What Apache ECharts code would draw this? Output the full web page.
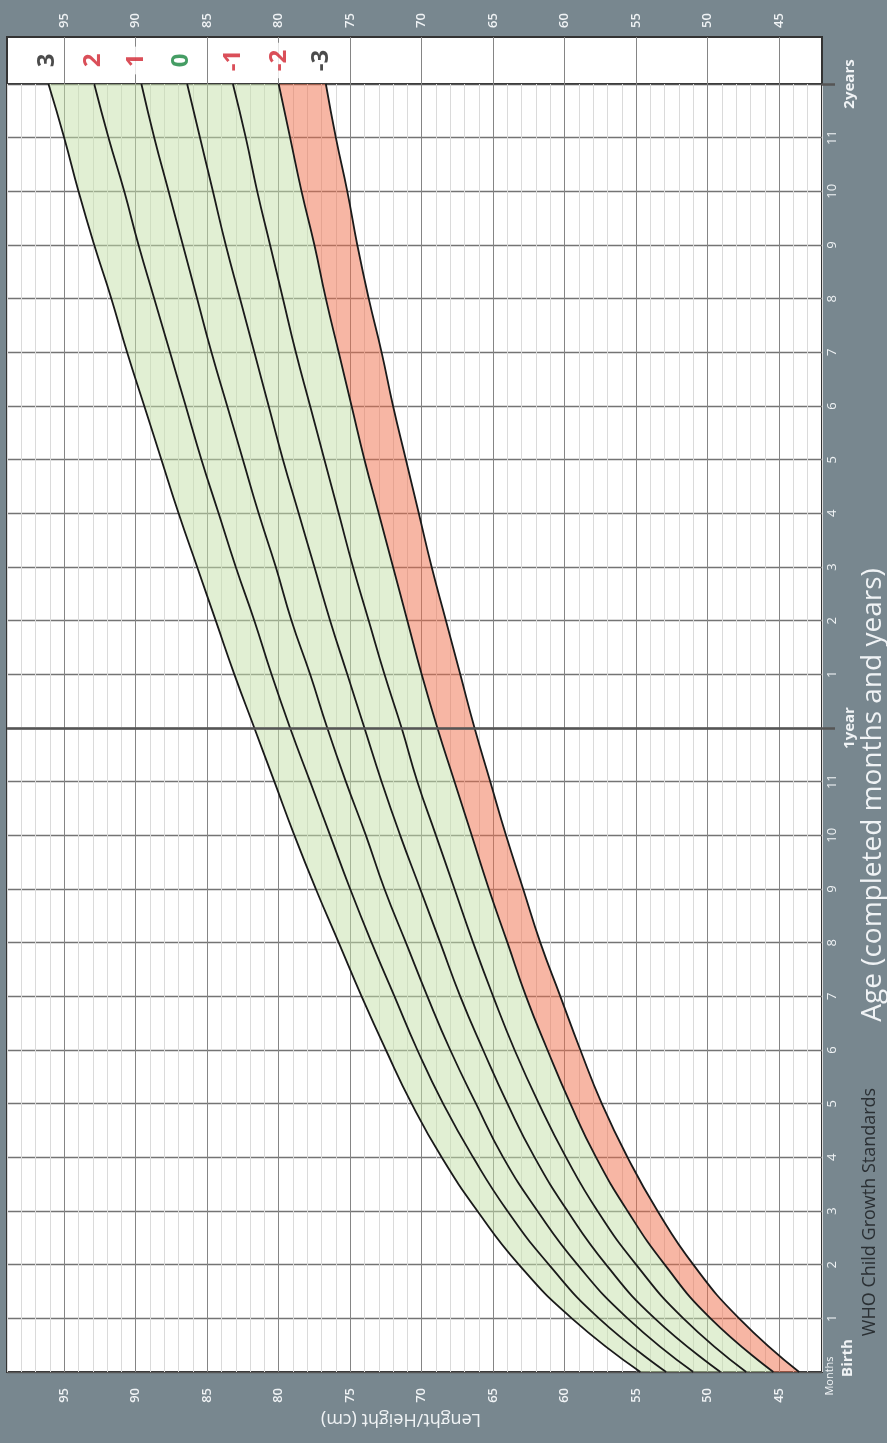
<!DOCTYPE html>
<html>
<head>
<meta charset="utf-8">
<script src="https://cdn.jsdelivr.net/npm/echarts@6/dist/echarts.min.js"></script>
<style>
html,body{margin:0;padding:0;background:#78878f;}
#c{width:887px;height:1443px;}
</style>
</head>
<body>
<div id="c"></div>
<script>
// Age categories (completed months)
const ages = [0,1,2,3,4,5,6,7,8,9,10,11,12,13,14,15,16,17,18,19,20,21,22,23,24];
const monthLabels = ['Birth','1','2','3','4','5','6','7','8','9','10','11','1year',
  '1','2','3','4','5','6','7','8','9','10','11','2years'];
// Length (cm) per z-score curve
const sdM3 = [43.6,47.8,51.0,53.5,55.6,57.4,58.9,60.3,61.7,62.9,64.1,65.2,66.3,67.3,68.3,69.3,70.2,71.1,72.0,72.8,73.7,74.5,75.2,76.0,76.7];
const sdM2 = [45.4,49.8,53.0,55.6,57.8,59.6,61.2,62.7,64.0,65.3,66.5,67.7,68.9,70.0,71.0,72.0,73.0,74.0,74.9,75.8,76.7,77.5,78.4,79.2,80.0];
const sdM1 = [47.3,51.7,55.0,57.7,59.9,61.8,63.5,65.0,66.4,67.7,69.0,70.3,71.4,72.6,73.7,74.8,75.8,76.8,77.8,78.8,79.7,80.6,81.5,82.3,83.2];
const sd0  = [49.1,53.7,57.1,59.8,62.1,64.0,65.7,67.3,68.7,70.1,71.5,72.8,74.0,75.2,76.4,77.5,78.6,79.7,80.7,81.7,82.7,83.7,84.6,85.5,86.4];
const sdP1 = [51.0,55.6,59.1,61.9,64.3,66.2,68.0,69.6,71.1,72.6,73.9,75.3,76.6,77.8,79.1,80.2,81.4,82.5,83.6,84.7,85.7,86.7,87.7,88.7,89.6];
const sdP2 = [52.9,57.6,61.1,64.0,66.4,68.5,70.3,71.9,73.5,75.0,76.4,77.8,79.2,80.5,81.7,83.0,84.2,85.4,86.5,87.6,88.7,89.8,90.8,91.9,92.9];
const sdP3 = [54.7,59.5,63.2,66.1,68.6,70.7,72.5,74.2,75.8,77.4,78.9,80.3,81.7,83.1,84.4,85.7,87.0,88.2,89.4,90.6,91.7,92.9,94.0,95.0,96.1];
// Curve labels in the header band
const zLabels = ['3','2','1','0','-1','-2','-3'];
const zLabelPos = [96.2,93.0,90.0,86.8,83.2,80.0,77.0];
const zColors = ['#1e1e1e','#d1232f','#d1232f','#17843d','#d1232f','#d1232f','#1e1e1e'];
const lengthMin = 42, lengthMax = 99;

const FONT = '"Open Sans", "Noto Sans", sans-serif';
const LIGHT = '#f0f3f5';
const MINOR = '#dadada', MAJOR = '#858585';

const bandPink = sdM2.map((v,i)=> +(v - sdM3[i]).toFixed(2));
const bandGreen = sdP3.map((v,i)=> +(v - sdM2[i]).toFixed(2));

const curves = [sdP3, sdP2, sdP1, sd0, sdM1, sdM2, sdM3];
const lineSeries = curves.map(d => ({
  type: 'line', xAxisIndex: 0, yAxisIndex: 0, data: d, smooth: true,
  symbol: 'none', silent: true, z: 4,
  lineStyle: { color: '#1a1a1a', width: 1.8 }
}));

const chart = echarts.init(document.getElementById('c'), null, {renderer: 'canvas'});
chart.setOption({
  backgroundColor: '#78878f',
  animation: false,
  textStyle: { fontFamily: FONT },
  grid: [
    { left: 7, right: 65, top: 84, bottom: 71, show: true, backgroundColor: '#fff', borderColor: '#333', borderWidth: 2 },
    { left: 7, right: 65, top: 37, height: 47, show: true, backgroundColor: '#fff', borderColor: '#333', borderWidth: 2 }
  ],
  xAxis: [
    { gridIndex: 0, type: 'value', min: lengthMin, max: lengthMax, interval: 1, inverse: true, position: 'bottom',
      axisLine: {show: false}, axisTick: {show: false},
      axisLabel: { rotate: 90, margin: 16, color: LIGHT, fontSize: 13, fontWeight: 600, fontFamily: FONT,
        formatter: v => (v % 5 === 0 ? String(v) : '') },
      splitLine: { show: true, lineStyle: { color: [MINOR, MINOR, MINOR, MAJOR, MINOR], width: 1 } } },
    { gridIndex: 1, type: 'value', min: lengthMin, max: lengthMax, interval: 1, inverse: true, position: 'top',
      axisLine: {show: false}, axisTick: {show: false},
      axisLabel: { rotate: 90, margin: 9, color: LIGHT, fontSize: 13, fontWeight: 600, fontFamily: FONT,
        formatter: v => (v % 5 === 0 ? String(v) : '') },
      splitLine: { show: true, lineStyle: { color: ['rgba(0,0,0,0)','rgba(0,0,0,0)','rgba(0,0,0,0)', MAJOR,'rgba(0,0,0,0)'], width: 1 } } }
  ],
  yAxis: [
    { gridIndex: 0, type: 'category', data: ages, boundaryGap: false, position: 'right',
      axisLine: {show: false}, axisTick: {show: false},
      axisLabel: { interval: 0, rotate: 90, margin: 4, color: LIGHT, fontSize: 13, fontFamily: FONT,
        formatter: (v, i) => (i % 12 === 0 ? '' : monthLabels[i]) },
      splitLine: { show: true, interval: 0, lineStyle: { color: ['#555','#747474','#747474','#747474','#747474','#747474','#747474','#747474','#747474','#747474','#747474','#747474'], width: 1.3 } } },
    { gridIndex: 0, type: 'category', data: ages, boundaryGap: false, position: 'right',
      axisLine: {show: false},
      axisTick: { show: true, interval: (i) => i === 12 || i === 24, length: 13, lineStyle: { color: '#555', width: 2.5 } },
      axisLabel: { interval: (i) => i === 12 || i === 24, rotate: 90, margin: 20, color: LIGHT, fontSize: 15, fontWeight: 'bold', fontFamily: FONT,
        formatter: (v, i) => monthLabels[i] },
      splitLine: {show: false} },
    { gridIndex: 1, type: 'value', min: 0, max: 1, show: false }
  ],
  series: [
    { type: 'line', xAxisIndex: 0, yAxisIndex: 0, data: sdM3, stack: 'band', smooth: true, symbol: 'none', silent: true,
      lineStyle: { width: 0, opacity: 0 }, z: 2 },
    { type: 'line', xAxisIndex: 0, yAxisIndex: 0, data: bandPink, stack: 'band', smooth: true, symbol: 'none', silent: true,
      lineStyle: { width: 0, opacity: 0 }, areaStyle: { color: 'rgb(240,110,74)', opacity: 0.5 }, z: 2 },
    { type: 'line', xAxisIndex: 0, yAxisIndex: 0, data: bandGreen, stack: 'band', smooth: true, symbol: 'none', silent: true,
      lineStyle: { width: 0, opacity: 0 }, areaStyle: { color: 'rgb(196,224,168)', opacity: 0.5 }, z: 2,
      markLine: { silent: true, symbol: 'none', label: {show: false}, lineStyle: { color: '#555', width: 2.5, type: 'solid' },
        data: [{ yAxis: 12 }] } },
    ...lineSeries,
    { type: 'scatter', xAxisIndex: 1, yAxisIndex: 2, symbolSize: 0, silent: true, z: 5,
      data: zLabelPos.map((x, i) => ({ value: [x, 0.5], label: { color: zColors[i] } })),
      label: { show: true, position: 'inside', rotate: 90, fontSize: 24, fontWeight: 'bold', fontFamily: FONT,
        backgroundColor: '#fff', padding: [1, 7],
        formatter: p => zLabels[p.dataIndex] } }
  ],
  graphic: [
    { type: 'text', x: 873, y: 795, rotation: Math.PI / 2, silent: true,
      style: { text: 'Age (completed months and years)', fill: LIGHT, font: '28px ' + FONT, align: 'center', verticalAlign: 'middle' } },
    { type: 'text', x: 870, y: 1212, rotation: Math.PI / 2, silent: true,
      style: { text: 'WHO Child Growth Standards', fill: '#2a2f33', font: '18px ' + FONT, align: 'center', verticalAlign: 'middle' } },
    { type: 'text', x: 848, y: 1358, rotation: Math.PI / 2, silent: true,
      style: { text: 'Birth', fill: LIGHT, font: 'bold 15px ' + FONT, align: 'center', verticalAlign: 'middle' } },
    { type: 'text', x: 830, y: 1376, rotation: Math.PI / 2, silent: true,
      style: { text: 'Months', fill: LIGHT, font: '11px ' + FONT, align: 'center', verticalAlign: 'middle' } },
    { type: 'text', x: 401, y: 1419, rotation: Math.PI, silent: true,
      style: { text: 'Lenght/Height (cm)', fill: LIGHT, font: '18px ' + FONT, align: 'center', verticalAlign: 'middle' } }
  ]
});
</script>
</body>
</html>
